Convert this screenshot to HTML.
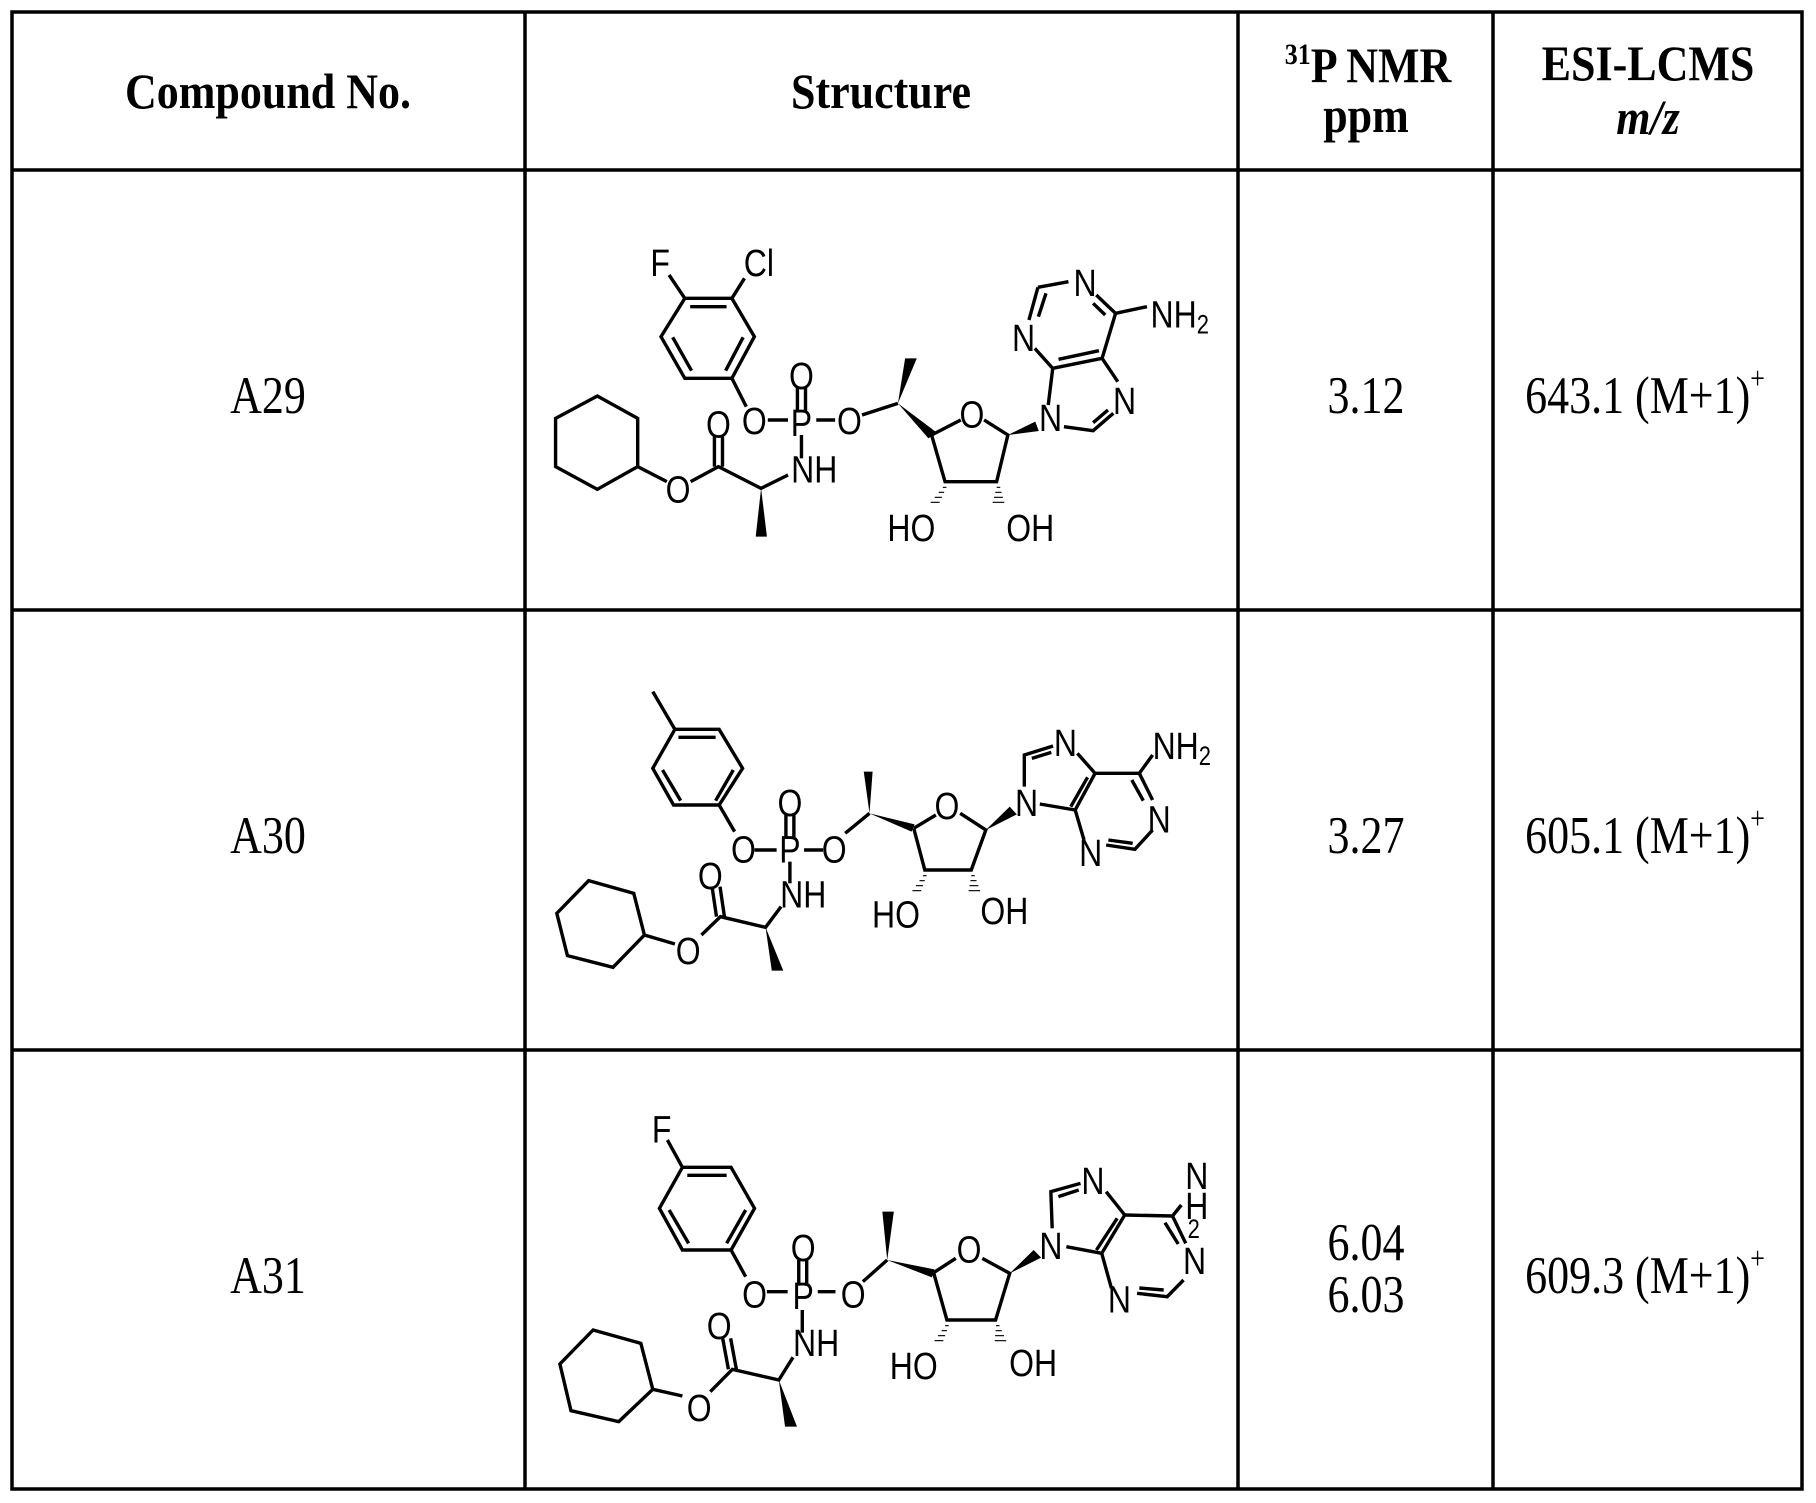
<!DOCTYPE html>
<html><head><meta charset="utf-8"><style>
html,body{margin:0;padding:0;background:#fff}
svg{display:block}
.t{font-family:"Liberation Serif",serif;fill:#000}
.b{stroke:#000;stroke-width:3.4;fill:none;vector-effect:non-scaling-stroke;stroke-linecap:butt;stroke-linejoin:miter}
.l{font-family:"Liberation Sans",sans-serif;font-size:32px;fill:#000;dominant-baseline:central}
</style></head><body>
<svg width="1816" height="1503" viewBox="0 0 1816 1503" xmlns="http://www.w3.org/2000/svg">
<rect x="0" y="0" width="1816" height="1503" fill="#fff"/>
<g stroke="#000" stroke-width="3.5" fill="none">
<rect x="12" y="12" width="1790" height="1477"/>
<line x1="525" y1="12" x2="525" y2="1489"/>
<line x1="1238" y1="12" x2="1238" y2="1489"/>
<line x1="1493" y1="12" x2="1493" y2="1489"/>
<line x1="12" y1="170" x2="1802" y2="170"/>
<line x1="12" y1="610" x2="1802" y2="610"/>
<line x1="12" y1="1050" x2="1802" y2="1050"/>
</g>
<g class="t" font-weight="bold" font-size="44" text-anchor="middle">
<text transform="translate(268,108) scale(1,1.12)">Compound No.</text>
<text transform="translate(881,108) scale(1,1.12)">Structure</text>
<text transform="translate(1368,82) scale(1,1.12)"><tspan font-size="26" dy="-16">31</tspan><tspan dy="16">P NMR</tspan></text>
<text transform="translate(1366,132) scale(1,1.12)">ppm</text>
<text transform="translate(1648,80) scale(1,1.12)">ESI-LCMS</text>
<text transform="translate(1648,134) scale(1,1.12)" font-style="italic">m/z</text>
</g>
<g class="t" font-size="44" text-anchor="middle">
<text transform="translate(268,413) scale(1,1.2)">A29</text>
<text transform="translate(268,853) scale(1,1.2)">A30</text>
<text transform="translate(268,1293) scale(1,1.2)">A31</text>
<text transform="translate(1366,413) scale(1,1.2)">3.12</text>
<text transform="translate(1366,853) scale(1,1.2)">3.27</text>
<text transform="translate(1366,1260) scale(1,1.2)">6.04</text>
<text transform="translate(1366,1312) scale(1,1.2)">6.03</text>
<text transform="translate(1645,413) scale(1,1.2)">643.1 (M+1)<tspan font-size="26" dy="-20">+</tspan></text>
<text transform="translate(1645,853) scale(1,1.2)">605.1 (M+1)<tspan font-size="26" dy="-20">+</tspan></text>
<text transform="translate(1645,1293) scale(1,1.2)">609.3 (M+1)<tspan font-size="26" dy="-20">+</tspan></text>
</g>

<!-- A29 -->
<g transform="matrix(0.4487 0 0 0.33333 530 200)">
<polygon class="b" points="150,588 240,655 240,800 150,868 57,800 57,655"/>
<polyline class="b" points="240,800 305,845"/>
<polyline class="b" points="358,845 420,800 515,865 575,825"/>
<line class="b" x1="411" y1="800" x2="411" y2="710"/><line class="b" x1="429" y1="800" x2="429" y2="710"/>
<polygon points="515,865 503,1010 528,1010" fill="#000"/>
<line class="b" x1="605" y1="775" x2="605" y2="705"/>
<line class="b" x1="596" y1="632" x2="596" y2="560"/><line class="b" x1="614" y1="632" x2="614" y2="560"/>
<line class="b" x1="530" y1="660" x2="575" y2="660"/><line class="b" x1="638" y1="660" x2="680" y2="660"/>
<line class="b" x1="482" y1="620" x2="450" y2="535"/>
<polygon class="b" points="450,535 345,535 292,410 345,295 450,295 500,410"/>
<line class="b" x1="357" y1="320" x2="438" y2="320"/>
<line class="b" x1="318" y1="412" x2="360" y2="512"/>
<line class="b" x1="475" y1="412" x2="436" y2="512"/>
<line class="b" x1="345" y1="295" x2="310" y2="225"/>
<line class="b" x1="450" y1="295" x2="478" y2="235"/>
<line class="b" x1="740" y1="645" x2="820" y2="610"/>
<polygon points="820,610 836,475 862,475" fill="#000"/>
<polygon points="820,610 888,715 906,697" fill="#000"/>
<polyline class="b" points="895,705 960,660"/>
<polyline class="b" points="1012,660 1065,705 1040,845 925,845 895,705"/>
<g class="b"><line x1="920" y1="862" x2="928" y2="862"/><line x1="911" y1="877" x2="923" y2="877"/><line x1="902" y1="892" x2="918" y2="892"/><line x1="893" y1="907" x2="913" y2="907"/>
<line x1="1040" y1="862" x2="1048" y2="862"/><line x1="1037" y1="877" x2="1051" y2="877"/><line x1="1034" y1="892" x2="1054" y2="892"/><line x1="1031" y1="907" x2="1057" y2="907"/></g>
<polygon points="1065,705 1126,665 1134,693" fill="#000"/>
<polyline class="b" points="1190,680 1255,692 1300,640"/>
<line class="b" x1="1255" y1="668" x2="1288" y2="630"/>
<line class="b" x1="1310" y1="545" x2="1275" y2="475"/>
<line class="b" x1="1275" y1="475" x2="1165" y2="505"/><line class="b" x1="1268" y1="452" x2="1178" y2="478"/>
<line class="b" x1="1165" y1="505" x2="1155" y2="615"/>
<line class="b" x1="1165" y1="505" x2="1125" y2="445"/>
<line class="b" x1="1112" y1="360" x2="1132" y2="262"/><line class="b" x1="1133" y1="350" x2="1150" y2="280"/>
<line class="b" x1="1132" y1="262" x2="1200" y2="245"/>
<line class="b" x1="1262" y1="285" x2="1305" y2="340"/><line class="b" x1="1255" y1="310" x2="1282" y2="345"/>
<line class="b" x1="1305" y1="340" x2="1275" y2="475"/>
<line class="b" x1="1305" y1="340" x2="1375" y2="320"/>
<g class="l" text-anchor="middle">
<text transform="translate(290,190) scale(2.2287,3.6)">F</text>
<text transform="translate(510,190) scale(2.2287,3.6)">Cl</text>
<text transform="translate(330,870) scale(2.2287,3.6)">O</text>
<text transform="translate(420,675) scale(2.2287,3.6)">O</text>
<text transform="translate(605,670) scale(2.2287,3.6)">P</text>
<text transform="translate(605,530) scale(2.2287,3.6)">O</text>
<text transform="translate(500,665) scale(2.2287,3.6)">O</text>
<text transform="translate(712,665) scale(2.2287,3.6)">O</text>
<text transform="translate(985,645) scale(2.2287,3.6)">O</text>
<text transform="translate(850,985) scale(2.2287,3.6)">HO</text>
<text transform="translate(1115,985) scale(2.2287,3.6)">OH</text>
<text transform="translate(1160,655) scale(2.2287,3.6)">N</text>
<text transform="translate(1325,605) scale(2.2287,3.6)">N</text>
<text transform="translate(1100,415) scale(2.2287,3.6)">N</text>
<text transform="translate(1237,250) scale(2.2287,3.6)">N</text>
</g>
<g class="l" text-anchor="start">
<text transform="translate(582,810) scale(2.2287,3.6)">NH</text>
<text transform="translate(1383,345) scale(2.2287,3.6)">NH<tspan font-size="22" dy="8">2</tspan></text>
</g>
</g>

<!-- A30 -->
<g transform="matrix(0.4423 0 0 0.33333 540 640)">
<polygon class="b" points="110,722 212,760 236,885 165,982 62,947 38,820"/>
<line class="b" x1="236" y1="885" x2="305" y2="912"/>
<polyline class="b" points="365,885 408,830 510,862 545,800"/>
<line class="b" x1="399" y1="830" x2="389" y2="740"/><line class="b" x1="417" y1="830" x2="407" y2="740"/>
<polygon points="510,862 524,992 550,992" fill="#000"/>
<line class="b" x1="565" y1="730" x2="565" y2="665"/>
<line class="b" x1="556" y1="592" x2="556" y2="520"/><line class="b" x1="574" y1="592" x2="574" y2="520"/>
<line class="b" x1="485" y1="630" x2="535" y2="630"/><line class="b" x1="597" y1="630" x2="640" y2="630"/>
<line class="b" x1="440" y1="575" x2="405" y2="495"/>
<polygon class="b" points="405,495 302,495 255,385 305,268 405,268 458,385"/>
<line class="b" x1="313" y1="292" x2="397" y2="292"/>
<line class="b" x1="277" y1="390" x2="318" y2="482"/>
<line class="b" x1="437" y1="390" x2="397" y2="482"/>
<line class="b" x1="305" y1="268" x2="255" y2="155"/>
<line class="b" x1="690" y1="580" x2="745" y2="520"/>
<polygon points="745,520 732,395 752,395" fill="#000"/>
<polygon points="745,520 847,553 840,575" fill="#000"/>
<line class="b" x1="845" y1="565" x2="895" y2="525"/>
<polyline class="b" points="950,520 1008,570 975,690 870,690 845,565"/>
<g class="b"><line x1="866" y1="707" x2="874" y2="707"/><line x1="858" y1="722" x2="870" y2="722"/><line x1="850" y1="737" x2="866" y2="737"/><line x1="842" y1="752" x2="862" y2="752"/>
<line x1="975" y1="707" x2="983" y2="707"/><line x1="973" y1="722" x2="987" y2="722"/><line x1="971" y1="737" x2="991" y2="737"/><line x1="969" y1="752" x2="995" y2="752"/></g>
<polygon points="1008,570 1062,500 1078,523" fill="#000"/>
<polyline class="b" points="1095,440 1095,345 1160,318"/>
<line class="b" x1="1112" y1="355" x2="1156" y2="337"/>
<line class="b" x1="1215" y1="340" x2="1255" y2="400"/>
<line class="b" x1="1255" y1="400" x2="1210" y2="510"/><line class="b" x1="1238" y1="412" x2="1200" y2="500"/>
<line class="b" x1="1210" y1="510" x2="1130" y2="492"/>
<line class="b" x1="1255" y1="400" x2="1355" y2="400"/>
<line class="b" x1="1355" y1="400" x2="1385" y2="345"/>
<line class="b" x1="1355" y1="400" x2="1385" y2="480"/><line class="b" x1="1338" y1="420" x2="1364" y2="482"/>
<polyline class="b" points="1385,570 1345,628 1280,615"/>
<line class="b" x1="1340" y1="610" x2="1285" y2="600"/>
<line class="b" x1="1230" y1="600" x2="1210" y2="510"/>
<g class="l" text-anchor="middle">
<text transform="translate(335,935) scale(2.2609,3.6)">O</text>
<text transform="translate(385,710) scale(2.2609,3.6)">O</text>
<text transform="translate(565,630) scale(2.2609,3.6)">P</text>
<text transform="translate(565,490) scale(2.2609,3.6)">O</text>
<text transform="translate(460,630) scale(2.2609,3.6)">O</text>
<text transform="translate(665,630) scale(2.2609,3.6)">O</text>
<text transform="translate(920,500) scale(2.2609,3.6)">O</text>
<text transform="translate(805,825) scale(2.2609,3.6)">HO</text>
<text transform="translate(1050,815) scale(2.2609,3.6)">OH</text>
<text transform="translate(1100,490) scale(2.2609,3.6)">N</text>
<text transform="translate(1188,310) scale(2.2609,3.6)">N</text>
<text transform="translate(1400,540) scale(2.2609,3.6)">N</text>
<text transform="translate(1245,640) scale(2.2609,3.6)">N</text>
</g>
<g class="l" text-anchor="start">
<text transform="translate(543,765) scale(2.2609,3.6)">NH</text>
<text transform="translate(1385,320) scale(2.2609,3.6)">NH<tspan font-size="22" dy="8">2</tspan></text>
</g>
</g>

<!-- A31 -->
<g transform="matrix(0.4423 0 0 0.33333 540 1080)">
<polygon class="b" points="120,750 228,790 255,928 178,1025 70,992 45,852"/>
<line class="b" x1="255" y1="928" x2="322" y2="948"/>
<polyline class="b" points="385,935 435,868 540,900 572,832"/>
<line class="b" x1="426" y1="868" x2="413" y2="775"/><line class="b" x1="444" y1="868" x2="431" y2="775"/>
<polygon points="540,900 554,1040 581,1040" fill="#000"/>
<line class="b" x1="593" y1="758" x2="593" y2="690"/>
<line class="b" x1="585" y1="617" x2="585" y2="540"/><line class="b" x1="603" y1="617" x2="603" y2="540"/>
<line class="b" x1="513" y1="635" x2="560" y2="635"/><line class="b" x1="628" y1="635" x2="668" y2="635"/>
<line class="b" x1="465" y1="590" x2="432" y2="510"/>
<polygon class="b" points="432,510 322,510 270,385 322,262 432,262 485,385"/>
<line class="b" x1="333" y1="286" x2="422" y2="286"/>
<line class="b" x1="292" y1="390" x2="336" y2="490"/>
<line class="b" x1="465" y1="390" x2="422" y2="490"/>
<line class="b" x1="322" y1="262" x2="288" y2="180"/>
<line class="b" x1="730" y1="605" x2="785" y2="540"/>
<polygon points="785,540 774,395 800,395" fill="#000"/>
<polygon points="785,540 892,568 886,592" fill="#000"/>
<line class="b" x1="890" y1="578" x2="940" y2="535"/>
<polyline class="b" points="1000,535 1062,580 1030,720 920,720 890,578"/>
<g class="b"><line x1="916" y1="737" x2="924" y2="737"/><line x1="908" y1="752" x2="920" y2="752"/><line x1="900" y1="767" x2="916" y2="767"/><line x1="892" y1="782" x2="912" y2="782"/>
<line x1="1031" y1="737" x2="1039" y2="737"/><line x1="1030" y1="752" x2="1044" y2="752"/><line x1="1029" y1="767" x2="1049" y2="767"/><line x1="1028" y1="782" x2="1054" y2="782"/></g>
<polygon points="1062,580 1116,510 1133,533" fill="#000"/>
<polyline class="b" points="1158,445 1155,335 1222,310"/>
<line class="b" x1="1172" y1="350" x2="1218" y2="330"/>
<line class="b" x1="1280" y1="335" x2="1322" y2="405"/>
<line class="b" x1="1322" y1="405" x2="1270" y2="520"/><line class="b" x1="1305" y1="415" x2="1258" y2="510"/>
<line class="b" x1="1270" y1="520" x2="1190" y2="500"/>
<line class="b" x1="1322" y1="405" x2="1430" y2="408"/>
<line class="b" x1="1430" y1="408" x2="1450" y2="375"/>
<line class="b" x1="1430" y1="408" x2="1460" y2="490"/><line class="b" x1="1413" y1="428" x2="1443" y2="492"/>
<polyline class="b" points="1455,600 1418,650 1350,640"/>
<line class="b" x1="1410" y1="630" x2="1355" y2="624"/>
<line class="b" x1="1292" y1="625" x2="1270" y2="520"/>
<g class="l" text-anchor="middle">
<text transform="translate(275,150) scale(2.2609,3.6)">F</text>
<text transform="translate(360,985) scale(2.2609,3.6)">O</text>
<text transform="translate(405,740) scale(2.2609,3.6)">O</text>
<text transform="translate(595,650) scale(2.2609,3.6)">P</text>
<text transform="translate(595,505) scale(2.2609,3.6)">O</text>
<text transform="translate(485,645) scale(2.2609,3.6)">O</text>
<text transform="translate(708,645) scale(2.2609,3.6)">O</text>
<text transform="translate(970,510) scale(2.2609,3.6)">O</text>
<text transform="translate(845,860) scale(2.2609,3.6)">HO</text>
<text transform="translate(1115,850) scale(2.2609,3.6)">OH</text>
<text transform="translate(1155,500) scale(2.2609,3.6)">N</text>
<text transform="translate(1250,305) scale(2.2609,3.6)">N</text>
<text transform="translate(1480,545) scale(2.2609,3.6)">N</text>
<text transform="translate(1310,660) scale(2.2609,3.6)">N</text>
<text transform="translate(1485,290) scale(2.2609,3.6)">N</text>
<text transform="translate(1485,380) scale(2.2609,3.6)">H</text>
<text transform="translate(1478,450) scale(2.2609,3.6)" font-size="22">2</text>
</g>
<g class="l" text-anchor="start">
<text transform="translate(572,790) scale(2.2609,3.6)">NH</text>
</g>
</g>
</svg>
</body></html>
